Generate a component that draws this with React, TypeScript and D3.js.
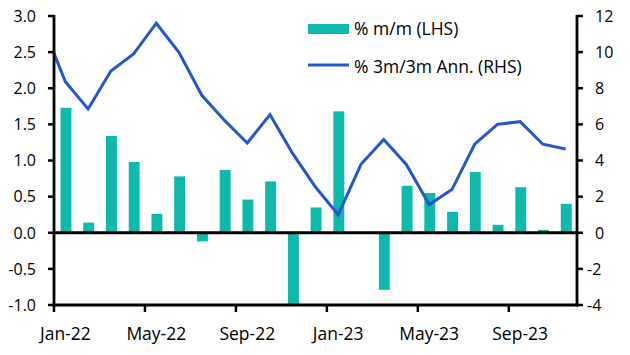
import React from "react";
import * as d3 from "d3";

const months = [
  "Jan-22","Feb-22","Mar-22","Apr-22","May-22","Jun-22","Jul-22","Aug-22","Sep-22","Oct-22","Nov-22","Dec-22",
  "Jan-23","Feb-23","Mar-23","Apr-23","May-23","Jun-23","Jul-23","Aug-23","Sep-23","Oct-23","Nov-23",
];
const momValues = [
  1.73, 0.14, 1.34, 0.98, 0.26, 0.78, -0.12, 0.87, 0.46, 0.71, -1.0, 0.35,
  1.68, 0.0, -0.79, 0.65, 0.55, 0.29, 0.84, 0.11, 0.63, 0.04, 0.40,
];
// line starts one month earlier (Dec-21) and is clipped at the left axis
const lineMonths = ["Dec-21", ...months];
const annValues = [
  11.5, 8.36, 6.85, 8.95, 9.9, 11.6, 9.97, 7.61, 6.22, 4.97, 6.54, 4.38, 2.53,
  1.0, 3.79, 5.16, 3.77, 1.56, 2.39, 4.9, 6.0, 6.15, 4.9, 4.64,
];
const xTickLabels = ["Jan-22", "May-22", "Sep-22", "Jan-23", "May-23", "Sep-23"];
const leftTicks = [-1, -0.5, 0, 0.5, 1, 1.5, 2, 2.5, 3];
const rightTicks = [-4, -2, 0, 2, 4, 6, 8, 10, 12];
const legendLabels = ["% m/m (LHS)", "% 3m/3m Ann. (RHS)"];

const BAR = "#0DB9AC";
const LINE = "#2258CC";
const FONT = "'Open Sans', 'Noto Sans', sans-serif";

export default function App() {
  const L = 54, R = 577, T = 16, B = 305;
  const x = d3.scaleLinear().domain([0, months.length]).range([L, R]);
  const step = x(1) - x(0);
  const yL = d3.scaleLinear().domain([-1, 3]).range([B, T]);
  const yR = d3.scaleLinear().domain([-4, 12]).range([B, T]);
  const bw = step * 0.48;

  const lineGen = d3
    .line<number>()
    .x((_, i) => x(lineMonths.indexOf(lineMonths[i]) - 1 + 0.5))
    .y((d) => yR(d));

  const fs = 16;
  const fs2 = 17.5;
  return (
    <svg width={630} height={355} style={{ position: "absolute", left: 0, top: 0, background: "#fff" }}
      fontFamily={FONT}>
      <defs>
        <clipPath id="plot">
          <rect x={L} y={T - 5} width={R - L} height={B - T + 10} />
        </clipPath>
      </defs>
      {/* bars */}
      {momValues.map((v, i) => {
        const cx = x(i + 0.5) + 0.6;
        const y0 = yL(0), y1 = yL(v);
        return (
          <rect key={months[i]} x={cx - bw / 2} y={Math.min(y0, y1)} width={bw}
            height={Math.abs(y1 - y0)} fill={BAR} />
        );
      })}
      {/* zero line */}
      <line x1={L} x2={R} y1={yL(0)} y2={yL(0)} stroke="#000" strokeWidth={2.8} />
      {/* line */}
      <path d={lineGen(annValues) || ""} fill="none" stroke={LINE} strokeWidth={3}
        strokeLinejoin="miter" clipPath="url(#plot)" />
      {/* left axis */}
      <line x1={L} x2={L} y1={T - 1} y2={B + 1.5} stroke="#000" strokeWidth={2.8} />
      {leftTicks.map((t) => (
        <g key={"l" + t}>
          <line x1={L - 6} x2={L} y1={yL(t)} y2={yL(t)} stroke="#000" strokeWidth={2.5} />
          <text x={36} y={yL(t)} dy="0.36em" textAnchor="end" fontSize={fs} fill="#000">
            {t.toFixed(1)}
          </text>
        </g>
      ))}
      {/* right axis */}
      <line x1={R} x2={R} y1={T - 1} y2={B + 1.5} stroke="#000" strokeWidth={2.8} />
      {rightTicks.map((t) => (
        <g key={"r" + t}>
          <line x1={R} x2={R + 6} y1={yR(t)} y2={yR(t)} stroke="#000" strokeWidth={2.5} />
          <text x={t < 0 ? 587 : 595} y={yR(t)} dy="0.36em" textAnchor="start" fontSize={fs} fill="#000">
            {String(t)}
          </text>
        </g>
      ))}
      {/* bottom axis */}
      <line x1={L - 1.4} x2={R + 1.4} y1={B} y2={B} stroke="#000" strokeWidth={2.8} />
      {xTickLabels.map((m) => {
        const i = months.indexOf(m);
        return (
          <g key={m}>
            <line x1={x(i)} x2={x(i)} y1={B} y2={B + 7} stroke="#000" strokeWidth={2.5} />
            <text x={x(i + 0.5)} y={340} textAnchor="middle" fontSize={fs2} fill="#000">
              {m}
            </text>
          </g>
        );
      })}
      {/* legend */}
      <rect x={308} y={24} width={41} height={10} fill={BAR} />
      <text x={354} y={35} fontSize={fs2} fill="#000">{legendLabels[0]}</text>
      <line x1={308} x2={349} y1={65} y2={65} stroke={LINE} strokeWidth={3} />
      <text x={354} y={72.5} fontSize={fs2} fill="#000">{legendLabels[1]}</text>
    </svg>
  );
}
